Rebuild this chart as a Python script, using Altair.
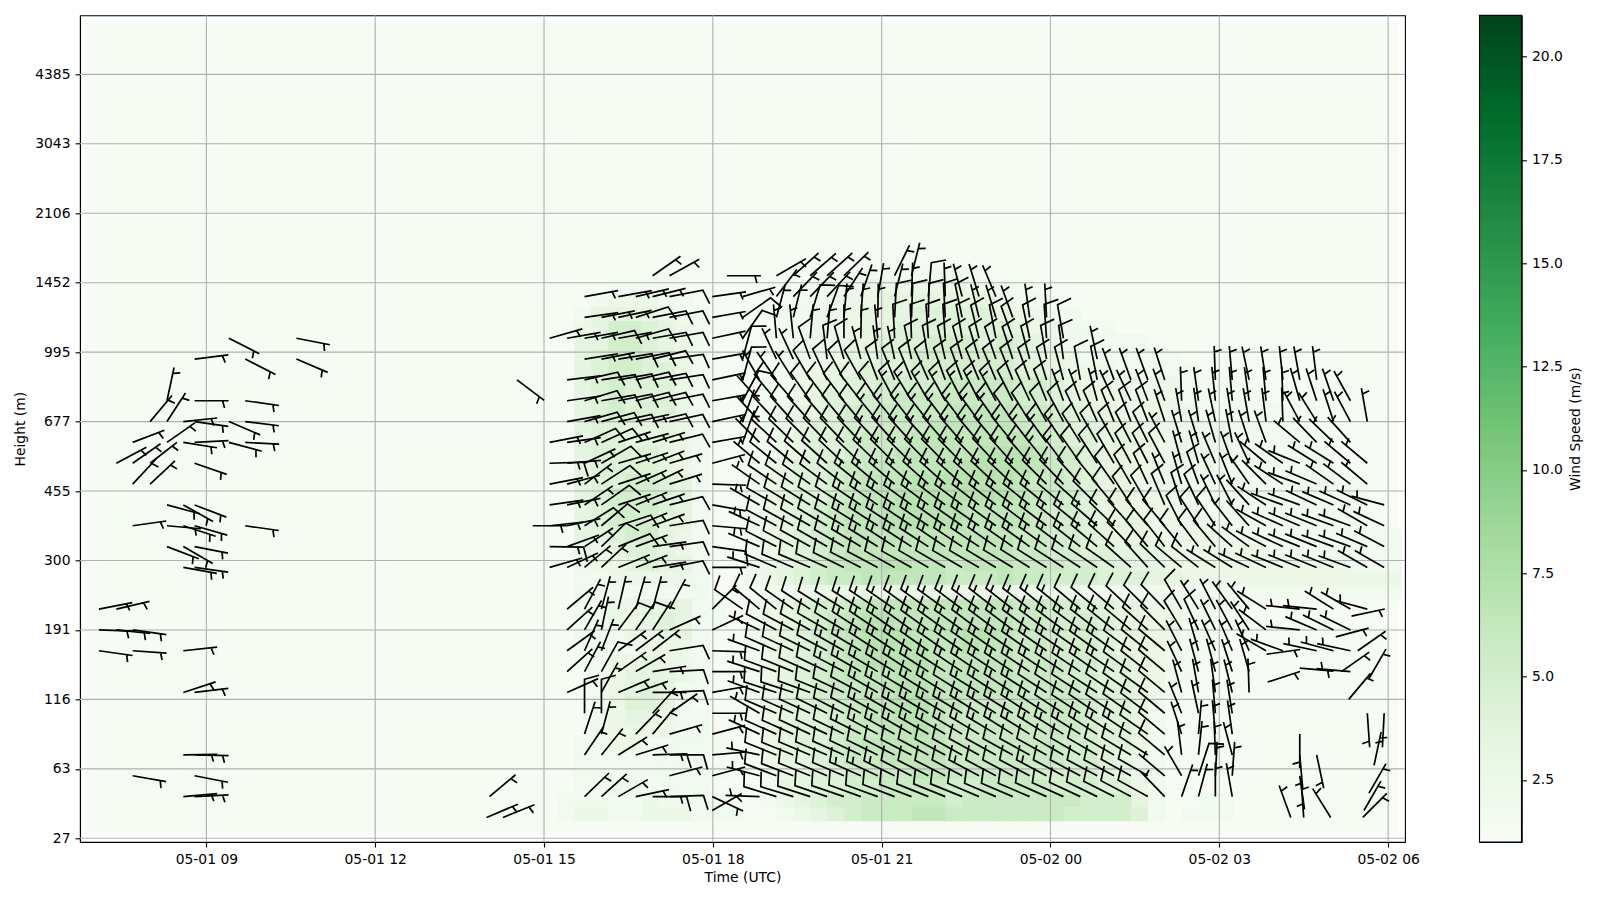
import json
import altair as alt
import pandas as pd

_ = None
TICK_HOURS = [9, 12, 15, 18, 21, 24, 27, 30]
TICK_LABELS = ["05-01 09", "05-01 12", "05-01 15", "05-01 18", "05-01 21", "05-02 00", "05-02 03", "05-02 06"]
GATE_TICKS = [0, 20, 40, 60, 80, 100, 120, 140, 160, 180, 200, 220]
HEIGHT_LABELS = ["27", "63", "116", "191", "300", "455", "677", "995", "1452", "2106", "3043", "4385"]
COLORBAR_TICKS = [2.5, 5, 7.5, 10, 12.5, 15, 17.5, 20]
GREENS = ["#f7fcf5", "#e5f5e0", "#c7e9c0", "#a1d99b", "#74c476", "#41ab5d", "#238b45", "#006d2c", "#00441b"]

# wind speed class (digit) -> m/s
HEAT_LEVELS = [1.2, 1.8, 2.6, 3.4, 4.2, 5.0, 5.8, 6.4, 7.0, 7.6]
HEAT_HOUR0 = 14.34
HEAT_STEP_H = 0.3
HEAT_STEP_GATE = 4
HEAT_ROWS = [
    "00000000000000000000000000000000000000000000000000000",
    "00012211222111001234566677666666655554101110000000000",
    "00011111211110012345566666566666665553100110000000000",
    "00001122111100013344556666556666555442100000000000000",
    "00001111111110012344566677666665555432100000000000000",
    "00001111111100023345667777666666655432100000000000000",
    "00001122111110023445677777666666655442100000000000000",
    "00000122221100023445667787666666665443100000000000000",
    "00000123321100023445677887666666665443100000000000000",
    "00000124431000023455677887766666665443100000000000000",
    "00000123431100123456677887777766665443210000000000000",
    "00000123332100123456777887777766655443211000000000000",
    "00001122322100123456788887777766655443211000000000000",
    "00001111222100123456788887787766555433211100000000000",
    "00001112233100123456788877788766555433221100000000000",
    "00001122343110123456788777777766555433221100000000000",
    "00001122333110123455677777777766554433221110000000000",
    "00001111111100011222222222222222221111111111111111111",
    "00001122222100123456677777666766555444332222222222222",
    "00001223433100123456778877677766655443322222222222111",
    "00002234432100123456777777777766554433322222211111111",
    "00003345532100123456777777777766554333222221111111111",
    "00003455533100123456778888877776554333222211111111100",
    "00003455543100123456778888877776554332222111111111100",
    "00003455543100123445677888888876654332221111111111100",
    "00003445543100123445677788888876654332221111111111100",
    "00003444432100123445667777888887654332222211111110000",
    "00003444432100012344566777778887654332222221111110000",
    "00003443332100012344566677777776544333222221111110000",
    "00003443332100012344556667777766544332222221111000000",
    "00003454442100012334556666777766543322222111111000000",
    "00003454442100011234455666666655433222221111100000000",
    "00003454442100011233445555666655432222221111000000000",
    "00003455442100001223344455555544322211111000000000000",
    "00003455432100001222334455555543321111110000000000000",
    "00003355432100001222334445554543211111000000000000000",
    "00002355432100001122233444444432211100000000000000000",
    "00001333321100001122233344444322110000000000000000000",
    "00000122211000000112223333333211000000000000000000000",
    "00000011110000000011122222221110000000000000000000000",
    "00000000000000000000011111110000000000000000000000000",
]
# faint patches on the left: hour0, hour1, gate0, gate1, speed
FAINT_H0 = [8.55, 7.2, 8.5, 7.0, 8.6]
FAINT_H1 = [9.15, 9.0, 9.2, 8.0, 9.1]
FAINT_G0 = [3, 88, 40, 8, 100]
FAINT_G1 = [40, 96, 60, 30, 120]
FAINT_V = [1.3, 1.35, 1.3, 1.25, 1.35]

ROW_GATE0 = 12
ROW_GATE_STEP = 6
COL_H = [17.99, 18.25, 18.53, 18.83, 19.13, 19.43, 19.73, 20.03, 20.33, 20.63, 20.93, 21.23, 21.53, 21.83,
         22.13, 22.43, 22.73, 23.03, 23.33, 23.63, 23.93, 24.23, 24.53, 24.83, 25.13, 25.43, 25.73, 26.03,
         26.33, 26.63, 26.93, 27.23, 27.53, 27.83, 28.13, 28.43, 28.73, 29.03, 29.33, 29.63, 29.93]
ANG = {
 0: [115,_,_,272, 287,287,288,289,289,290,290,291,291,292,292,292,293,293,293,293,294,294,295,296,297,298,299, 316,19,15,0,350,_,_,_,_,_,_,_,_,_],
 1: [75,_,_,285, 291,291,292,293,293,294,295,296,297,297,297,298,298,298,298,298,298,298,298,298,298,299,300, 310,330,18,3,4,_,_,_,172,_,_,_,_,_],
 2: [85,_,_,282, 292,292,293,293,294,295,296,297,297,298,298,299,299,299,299,299,299,300,300,300,300,301,303, 310,353,6,358,345,_,_,_,175,168,_,_,_,_],
 3: [75,_,_,295, 294,294,295,295,296,297,298,299,300,300,300,301,301,301,302,302,302,302,302,303,303,304,305, 310,342,5,355,352,_,_,_,180,_,_,_,_,_],
 4: [90,_,_,300, 293,294,295,296,297,298,299,300,300,301,301,301,302,302,302,303,303,303,303,304,304,305,307, 310,338,348,355,351,_,_,_,_,_,_,_,176,183],
 5: [80,_,_,290, 288,288,290,292,295,298,300,300,301,302,302,302,302,303,303,303,303,303,303,303,304,305,306, 310,345,350,352,346,358,_,_,_,_,_,_,_,_],
 6: [90,_,_,288, 290,292,294,296,298,300,301,302,303,303,303,304,304,304,304,304,304,304,304,305,305,306,308, 310,335,345,345,342,344,_,_,_,_,_,275,_,_],
 7: [92,_,_,290, 294,295,296,298,300,301,303,304,305,305,305,305,305,305,305,305,305,305,305,306,306,307,309, 310,333,344,336,337,336,300,290,_,282,285,282,_,_],
 8: [65,_,_,295, 298,298,299,300,301,303,304,305,306,306,306,306,307,307,307,307,307,307,307,308,309,310,312, 315,329,335,334,332,327,307,_,276,293,296,296,_,_],
 9: [45,_,305,310, 309,305,303,302,302,303,304,305,306,306,306,307,307,308,308,308,309,309,310,310,311,313,315, 316,330,328,333,324,320,302,_,276,276,302,300,285,_],
 11: [90,_,_,288, 293,293,293,294,296,297,298,299,299,300,300,300,300,301,301,302,302,303,303,304,305, 312,318,314,310,308,302,302,295,295,292,292,292,292,290,300,300],
 12: [98,_,_,293, 297,298,299,300,300,301,302,303,303,303,304,304,304,305,305,306,306,307,308,310,312, 316,320,322,320,323,320,312,306,298,295,292,292,290,290,293,298],
 13: [95,_,_,295, 298,299,300,301,301,302,303,303,304,304,305,305,305,306,306,307,307,308,309,311,314, 318,320,320,333,327,326,322,318,299,294,293,292,290,290,300,295],
 14: [100,_,_,300, 300,301,302,302,303,304,305,305,306,307,307,307,308,308,308,309,309,310,312,315,320, 327,330,337,342,335,334,333,318,303,290,290,295,293,294,296,285],
 15: [92,_,_,305, 304,305,306,307,308,309,310,311,311,312,312,312,312,313,313,314,315,316,318,321,325, 330,335,338,344,340,335,338,325,315,303,290,293,305,307,310,_],
 16: [75,_,_,310, 309,310,311,312,313,314,314,315,315,316,316,316,316,317,318,319,321,323,325,327,330, 332,333,332,345,344,337,340,335,310,305,292,302,302,310,310,_],
 17: [80,_,20,315, 313,314,315,316,316,317,317,318,318,318,319,319,320,320,321,322,324,326,328,330,332, 333,334,332,343,343,344,349,342,340,_,310,316,314,318,_,_],
 18: [78,_,20,318, 317,318,318,319,320,320,321,321,322,322,323,323,324,325,326,328,330,332,334,336,338, 339,339,342,350,352,348,351,350,353,358,332,328,342,332,350,_],
 19: [80,_,28,318, 320,319,325,323,323,322,326,332,329,330,331,333,333,331,333,335,338,340,340,345,335, 335,339,340,358,352,354,355,352,355,358,344,342,341,331,_,_],
 20: [78,_,15,330, 325,328,330,335,332,331,339,338,338,336,340,340,337,337,338,340,343,345,350,349,340, 340,340,342,_,_,358,355,348,351,354,350,353,_,_,_,_],
 21: [80,_,15,_, 335,335,340,353,344,345,352,348,348,350,347,344,343,341,342,345,350,352,_,348,_, _,_,_,_,_,_,_,_,_,_,_,_,_,_,_,_],
 22: [78,_,35,_, 355,354,5,5,0,1,355,357,358,356,356,350,346,349,340,348,356,350,_,_,_, _,_,_,_,_,_,_,_,_,_,_,_,_,_,_,_],
 23: [80,_,55,_, 15,14,17,20,5,4,1,3,2,1,357,348,346,343,340,352,357,_,_,_,_, _,_,_,_,_,_,_,_,_,_,_,_,_,_,_,_],
 24: [82,_,74,_, 37,44,44,43,33,19,10,14,2,5,358,345,343,337,_,_,_,_,_,_,_, _,_,_,_,_,_,_,_,_,_,_,_,_,_,_,_],
 25: [_,90,_,_, 60,48,49,48,46,_,_,26,14,_,_,_,_,_,_,_,_,_,_,_,_, _,_,_,_,_,_,_,_,_,_,_,_,_,_,_,_],
}
KIND = {
 0: "h..h" + "f"*23 + "h"*14,
 1: "h..h" + "f"*5 + "b"*3 + "f"*4 + "b" + "f"*3 + "b" + "f"*6 + "hhf" + "h"*11,
 2: "h..h" + "f"*23 + "f" + "h"*13,
 3: "h..h" + "f"*5 + "b"*17 + "f" + "f" + "h"*13,
 4: "h..h" + "f"*6 + "b"*11 + "f"*6 + "f" + "h"*13,
 5: "h..h" + "f"*6 + "b"*5 + "f" + "b"*4 + "f"*7 + "f" + "h"*13,
 6: "h..h" + "f"*4 + "b"*17 + "f"*2 + "f" + "h"*13,
 7: "h..h" + "f"*4 + "b"*17 + "f"*2 + "f" + "h"*13,
 8: "h..h" + "f"*5 + "b"*16 + "f"*2 + "fff" + "h"*11,
 9: "h.ff" + "f"*5 + "b"*13 + "f"*5 + "ff" + "h"*12,
 11: "h..h" + "f"*23 + "fff" + "h"*11,
 12: "f..h" + "f"*5 + "b"*17 + "f" + "ffff" + "h"*10,
 13: "h..h" + "f"*5 + "b"*15 + "f"*3 + "ffff" + "h"*10,
 14: "h..h" + "f"*5 + "b"*12 + "f"*6 + "fff" + "h"*11,
 15: "h..h" + "f"*5 + "b"*13 + "f"*5 + "hhf" + "h"*11,
 16: "h..h" + "f"*6 + "b"*12 + "f"*5 + "fh" + "h"*12,
 17: "h.hh" + "f"*6 + "b"*12 + "f"*5 + "h"*14,
 18: "h.hh" + "f"*6 + "b"*8 + "f"*9 + "h"*14,
 19: "h.fh" + "f"*7 + "b"*7 + "f"*3 + "h"*6 + "h"*14,
 20: "h.fh" + "hh" + "f"*12 + "f"*6 + "h"*3 + "h"*14,
 21: "h.f." + "hh" + "f"*3 + "h"*3 + "f"*6 + "f"*4 + "h"*5 + "h"*14,
 22: "h.f." + "h"*7 + "f"*7 + "f"*4 + "h"*5 + "h"*14,
 23: "h.f." + "hh" + "ff" + "h"*3 + "ff" + "f" + "ff" + "hh" + "h"*3 + "h"*20,
 24: "h.h." + "h"*9 + "f" + "h"*4 + "h"*23,
 25: ".h.." + "h"*37,
}
WEST_H = [15.10, 15.41, 15.72, 16.02, 16.32, 16.63, 16.93, 17.23]
WEST_ANG = {
 0: [_,_,46,48,60,78,90,88], 1: [_,_,_,_,_,_,_,75], 2: [_,_,34,39,58,73,88,90], 3: [_,_,18,15,_,44,40,74],
 4: [_,_,0,0,_,_,42,55], 5: [_,66,_,29,67,71,90,87], 6: [_,48,28,29,55,60,81,87], 7: [_,54,24,21,54,53,52,81],
 8: [_,48,30,12,37,35,33,66], 9: [_,50,28,15,13,16,15,28], 11: [74,65,50,47,68,69,81,79], 12: [91,70,57,46,68,70,82,82],
 13: [84,78,58,50,72,68,70,81], 14: [82,79,56,55,72,68,71,76], 15: [79,75,53,57,72,66,64,73], 16: [88,85,65,60,74,72,69,74],
 17: [79,82,66,66,72,75,73,76], 18: [_,80,74,75,78,78,77,78], 19: [_,82,73,80,79,76,76,79], 20: [_,83,77,81,80,77,79,81],
 21: [_,_,81,79,81,79,76,82], 22: [74,80,80,77,80,74,80,80], 23: [_,_,82,79,78,72,79,79], 24: [_,_,80,_,80,77,76,79],
 25: [_,_,_,_,_,_,55,61],
}
WEST_KIND = {
 0: "..hhhhbf", 1: ".......h", 2: "..hhhhbf", 3: "..hh.hhh", 4: "..ff..hh", 5: ".h.hhhhf", 6: ".hhfhhhf", 7: ".hhhhhhf",
 8: ".hhhffhh", 9: ".hhhhhhh", 11: "hhhhhhhf", 12: "bhhffhhf", 13: "hhfffhhf", 14: "hhhfhhhf", 15: "hhhfhhhh", 16: "bhhfhhhh",
 17: "hhffhhhf", 18: ".hfffhff", 19: ".hffffff", 20: ".hffffff", 21: "..hhffff", 22: "hhhfhfff", 23: "..hhhfff", 24: "..h.hhhf",
 25: "......hh",
}
# isolated half-barbed staffs
SPARSE_H = [10.6, 9.4, 9.69, 10.6, 8.79, 9.69, 8.3, 8.79, 8.0, 8.3, 8.59, 8.79, 9.4, 9.69, 7.69, 8.3, 8.59, 8.79, 9.4, 9.69,
            7.4, 7.69, 8.0, 8.79, 7.69, 8.0, 8.3, 8.59, 8.79, 7.69, 8.3, 8.59, 8.79, 9.69, 8.3, 8.59, 8.79, 8.59, 8.79,
            7.09, 7.4, 7.09, 7.4, 7.69, 7.09, 7.69, 8.59, 8.59, 8.79, 8.59, 8.79, 7.69, 8.79, 8.59, 8.79,
            14.8, 14.52, 14.03, 13.98, 14.27, 17.99, 28.27, 28.5, 28.98, 29.55, 29.35, 29.07, 27.84, 29.46, 28.43, 29.17, 27.86, 29.3, 29.66, 29.75, 29.57, 29.66]
SPARSE_G = [144, 144, 138, 138, 138, 126, 126, 126, 120, 120, 120, 120, 120, 120, 114, 114, 114, 114, 114, 114,
            108, 108, 108, 108, 102, 102, 96, 96, 96, 90, 90, 90, 90, 90, 84, 84, 84, 78, 78,
            66, 66, 60, 60, 60, 54, 54, 54, 42, 42, 24, 24, 18, 18, 12, 12,
            90, 132, 12, 6, 6, 8, 6, 6, 6, 6, 64, 58, 53, 54, 49, 48, 45, 40, 46, 21, 8, 13]
SPARSE_A = [101, 117, 117, 113, 83, 98, 12, 90, 40, 33, 84, 98, 113, 97, 69, 55, 99, 87, 105, 93,
            62, 55, 52, 109, 43, 47, 105, 119, 111, 82, 95, 108, 106, 98, 111, 120, 101, 100, 98,
            79, 77, 92, 96, 98, 98, 94, 84, 72, 83, 89, 91, 100, 101, 85, 87,
            90, 127, 50, 67, 68, 60, 340, 356, 328, 45, 78, 75, 82, 55, 95, 55, 72, 40, 30, 12, 30, 30]

rows = []
for k, angs in ANG.items():
    for h, a, c in zip(COL_H, angs, KIND[k]):
        if a is not None and c != ".":
            rows.append((h, ROW_GATE0 + ROW_GATE_STEP * k, a, c))
for k, angs in WEST_ANG.items():
    for h, a, c in zip(WEST_H, angs, WEST_KIND[k]):
        if a is not None and c != ".":
            rows.append((h, ROW_GATE0 + ROW_GATE_STEP * k, a, c))
for h, g, a in zip(SPARSE_H, SPARSE_G, SPARSE_A):
    rows.append((h, g, a, "h"))
barbs = pd.DataFrame(rows, columns=["hour", "gate", "angle", "kind"])

heat = [dict(h0=6.83, h1=30.19, g0=1, g1=235, v=1.2)]
for h0, h1, g0, g1, v in zip(FAINT_H0, FAINT_H1, FAINT_G0, FAINT_G1, FAINT_V):
    heat.append(dict(h0=h0, h1=h1, g0=g0, g1=g1, v=v))
for i, row in enumerate(HEAT_ROWS):
    for j, ch in enumerate(row):
        if ch != "0":
            heat.append(dict(h0=HEAT_HOUR0 + j * HEAT_STEP_H, h1=HEAT_HOUR0 + (j + 1) * HEAT_STEP_H,
                             g0=1 + i * HEAT_STEP_GATE, g1=1 + (i + 1) * HEAT_STEP_GATE, v=HEAT_LEVELS[int(ch)]))
heat = pd.DataFrame(heat)

X = alt.Scale(domain=[6.754, 30.30], nice=False, zero=False)
Y = alt.Scale(domain=[-1.07, 237.0], nice=False, zero=False)
C = alt.Scale(domain=[1, 21], range=GREENS, interpolate="rgb")
CB = alt.Scale(domain=[1, 21], nice=False, zero=False)
FONT = "DejaVu Sans"

x_expr = "%s[round((datum.value-9)/3)]" % json.dumps(TICK_LABELS)
y_expr = "%s[round(datum.value/20)]" % json.dumps(HEIGHT_LABELS)
axis_style = dict(grid=False, labelFont=FONT, labelFontSize=13.9, titleFont=FONT, titleFontSize=13.9, titleFontWeight="normal",
                  labelColor="black", titleColor="black", tickColor="black", domainColor="black", tickWidth=1.1,
                  domainWidth=1.1, tickSize=5, labelPadding=5)

heat_layer = alt.Chart(heat).mark_rect(strokeWidth=0.5).encode(
    x=alt.X("h0:Q", scale=X, title="Time (UTC)",
            axis=alt.Axis(values=TICK_HOURS, labelExpr=x_expr, titlePadding=5, labelFlush=False, labelOverlap=False, **axis_style)),
    x2="h1:Q",
    y=alt.Y("g0:Q", scale=Y, title="Height (m)",
            axis=alt.Axis(values=GATE_TICKS, labelExpr=y_expr, titlePadding=7, labelOverlap=False, **axis_style)),
    y2="g1:Q",
    color=alt.Color("v:Q", scale=C, legend=None),
    stroke=alt.Stroke("v:Q", scale=C, legend=None),
)
vgrid = alt.Chart(pd.DataFrame({"hour": TICK_HOURS})).mark_rule(color="#b0b0b0", strokeWidth=1.1).encode(x=alt.X("hour:Q", scale=X))
hgrid = alt.Chart(pd.DataFrame({"gate": GATE_TICKS})).mark_rule(color="#b0b0b0", strokeWidth=1.1).encode(y=alt.Y("gate:Q", scale=Y))

TIP = "M0,0L0,-34"
FULL = "L14.5,-38"
HALF = "M0,-28L7.2,-30"
barb_layer = alt.Chart(barbs).mark_point(filled=False, size=4, stroke="black", strokeWidth=1.7, opacity=1).encode(
    x=alt.X("hour:Q", scale=X),
    y=alt.Y("gate:Q", scale=Y),
    shape=alt.Shape("kind:N", scale=alt.Scale(domain=["h", "f", "b"], range=[TIP + HALF, TIP + FULL, TIP + FULL + HALF]), legend=None),
    angle=alt.Angle("angle:Q", scale=None),
)
main = alt.layer(heat_layer, vgrid, hgrid, barb_layer).properties(width=1325, height=826.7)

bar_df = pd.DataFrame({"lo": [1 + 0.05 * i for i in range(400)]})
bar_df["hi"] = (bar_df["lo"] + 0.15).clip(upper=21)
bar_df["v"] = bar_df["lo"] + 0.025
bar_rects = alt.Chart(bar_df).mark_rect().encode(
    x=alt.value(0), x2=alt.value(42),
    y=alt.Y("lo:Q", scale=CB, title="Wind Speed (m/s)",
            axis=alt.Axis(orient="right", values=COLORBAR_TICKS, format=".1f", titleAngle=270, titleBaseline="top", titlePadding=6, **axis_style)),
    y2="hi:Q",
    color=alt.Color("v:Q", scale=C, legend=None),
)
bar_frame = alt.Chart(pd.DataFrame({"lo": [1], "hi": [21]})).mark_rect(fill=None, stroke="black", strokeWidth=1.1).encode(
    x=alt.value(0), x2=alt.value(42),
    y=alt.Y("lo:Q", scale=CB),
    y2="hi:Q",
)
colorbar = alt.layer(bar_rects, bar_frame).properties(width=42, height=826.7)

chart = alt.hconcat(main, colorbar, spacing=57.5).properties(
    padding={"left": 5, "top": 5.3, "right": 5, "bottom": 5}, background="white"
).resolve_scale(color="independent", stroke="independent").configure_view(stroke="black", strokeWidth=1.1)
chart.save("out.html", embed_options={"renderer": "svg", "actions": False})
